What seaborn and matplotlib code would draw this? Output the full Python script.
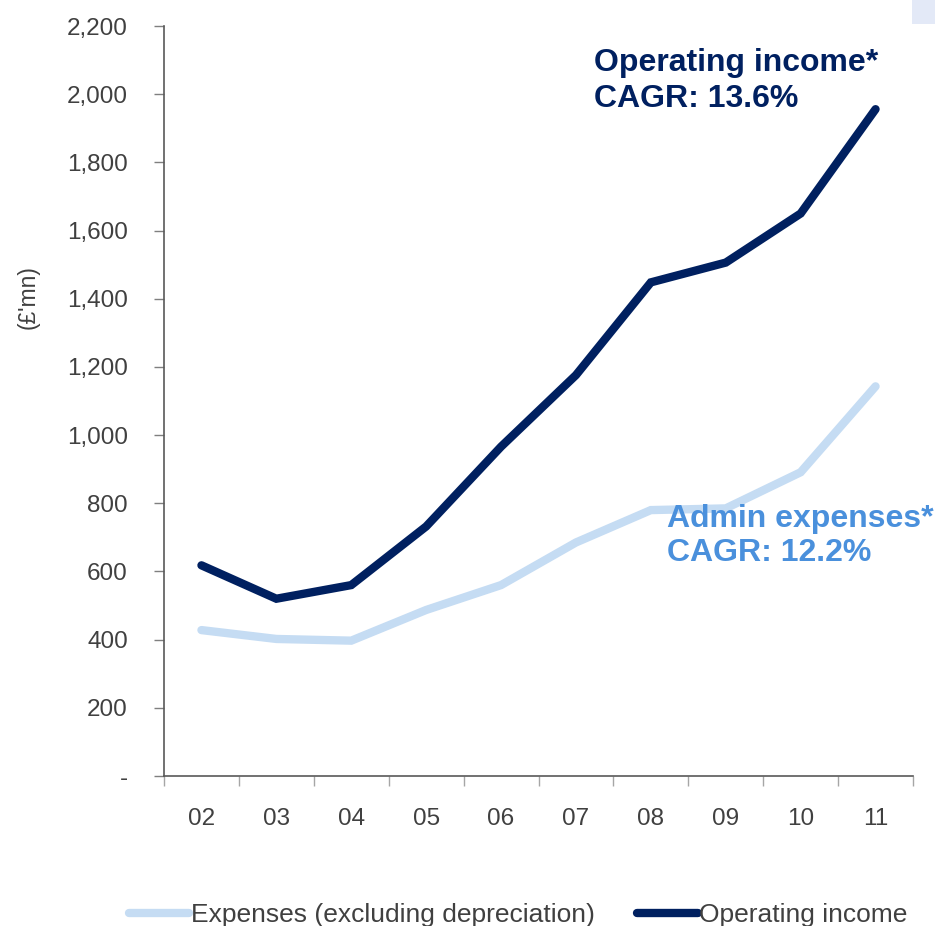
import matplotlib
matplotlib.use("Agg")
import matplotlib.pyplot as plt
from matplotlib.patches import Rectangle
from matplotlib.ticker import FuncFormatter, FixedLocator
import numpy as np
import pandas as pd
import seaborn as sns

# Financial years and series (£'mn)
years = ["02", "03", "04", "05", "06", "07", "08", "09", "10", "11"]
expenses = [428, 402, 397, 487, 560, 685, 780, 785, 891, 1143]
operating_income = [618, 520, 560, 732, 966, 1176, 1448, 1506, 1650, 1956]

series_names = ["Expenses (excluding depreciation)", "Operating income"]
yticks = [0, 200, 400, 600, 800, 1000, 1200, 1400, 1600, 1800, 2000, 2200]

LIGHT = "#C5DCF3"
DARK = "#002060"
LIGHT_TEXT = "#4A90DC"
GREY = "#404040"

df = pd.DataFrame({
    "year": years * 2,
    "value": expenses + operating_income,
    "series": [series_names[0]] * len(years) + [series_names[1]] * len(years),
})

sns.set_theme(style="white")
plt.rcParams["font.family"] = ["Liberation Sans", "DejaVu Sans"]

fig = plt.figure(figsize=(9.35, 9.26), dpi=100)
ax = fig.add_axes([164 / 935, 1 - 776 / 926, (913 - 164) / 935, (776 - 26) / 926])

sns.lineplot(data=df, x="year", y="value", hue="series", hue_order=series_names,
             palette=[LIGHT, DARK], linewidth=6, ax=ax, legend=False,
             sort=False)
for ln in ax.get_lines():
    ln.set_solid_capstyle("round")
    ln.set_solid_joinstyle("miter")

ax.set_xlim(-0.5, len(years) - 0.5)
ax.set_ylim(0, 2200)
ax.set_xlabel("")
ax.set_ylabel("")

ax.set_yticks(yticks)
ax.yaxis.set_major_formatter(FuncFormatter(lambda v, p: "-" if v == 0 else f"{int(v):,}"))
ax.tick_params(axis="y", which="major", direction="out", length=7, width=1,
               color="#7f7f7f", labelsize=17.5, labelcolor=GREY, pad=19, left=True)

ax.set_xticks(range(len(years)))
ax.set_xticklabels(years)
ax.tick_params(axis="x", which="major", length=0, labelsize=17.5, labelcolor=GREY, pad=23)
ax.xaxis.set_minor_locator(FixedLocator(np.arange(-0.5, len(years), 1.0)))
ax.tick_params(axis="x", which="minor", direction="out", length=7, width=1,
               color="#a6a6a6", bottom=True)

for side in ["top", "right"]:
    ax.spines[side].set_visible(False)
for side in ["left", "bottom"]:
    ax.spines[side].set_color("#595959")
    ax.spines[side].set_linewidth(1.2)

ax.grid(False)

# CAGR call-outs
ax.text(594 / 935, 1 - 81 / 926, "Operating income*\nCAGR: 13.6%", transform=fig.transFigure,
        ha="left", va="center", fontsize=23, fontweight="bold", color=DARK,
        linespacing=1.22)
ax.text(667 / 935, 1 - 536 / 926, "Admin expenses*\nCAGR: 12.2%", transform=fig.transFigure,
        ha="left", va="center", fontsize=23, fontweight="bold", color=LIGHT_TEXT,
        linespacing=1.15)

# Unit label
fig.text(28 / 935, 1 - 297 / 926, "(£'mn)", rotation=90, ha="center", va="center",
         fontsize=16.5, color=GREY)

# Legend along the bottom edge
handles = [plt.Line2D([], [], color=LIGHT, linewidth=6, solid_capstyle="round"),
           plt.Line2D([], [], color=DARK, linewidth=6, solid_capstyle="round")]
fig.legend(handles, series_names, loc="center", bbox_to_anchor=(518 / 935, 1 - 915 / 926),
           ncol=2, frameon=False, fontsize=19, handlelength=2.3, handletextpad=0.05,
           columnspacing=1.6, labelcolor=GREY)

# Small shaded block in the top-right corner
fig.patches.append(Rectangle((912 / 935, 1 - 24 / 926), 23 / 935, 24 / 926,
                             transform=fig.transFigure, facecolor="#E3E9F7",
                             edgecolor="none"))

fig.savefig("out.png", dpi=100)
